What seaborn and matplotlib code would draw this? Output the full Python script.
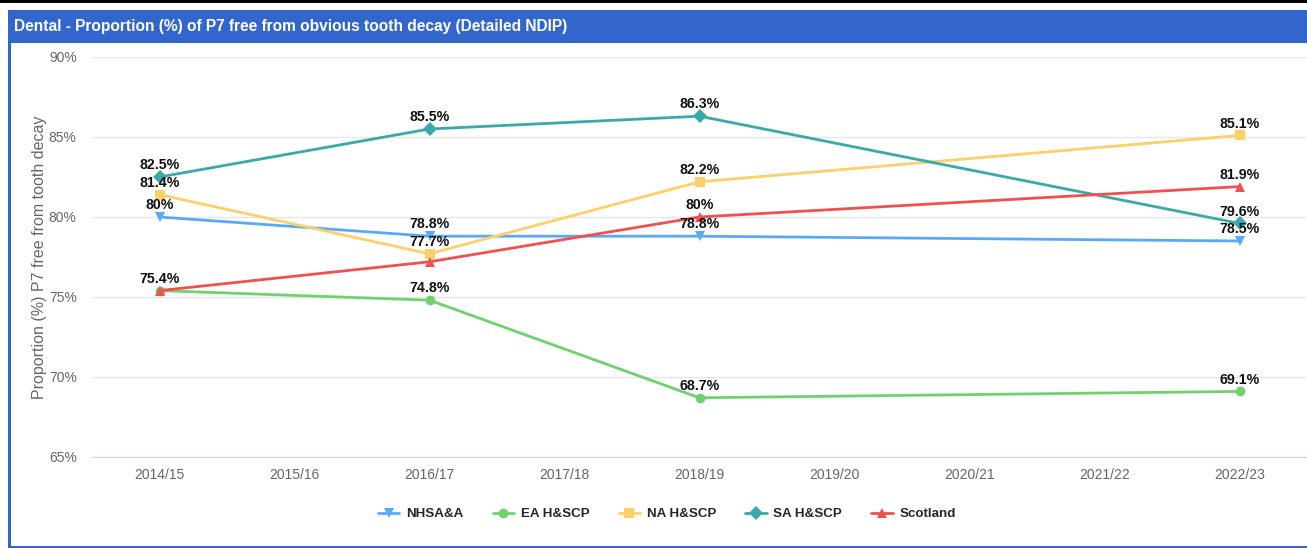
import numpy as np
import pandas as pd
import matplotlib
matplotlib.use("Agg")
import matplotlib.pyplot as plt
from matplotlib.patches import Rectangle
import seaborn as sns

sns.set_style("white")
plt.rcParams['font.family'] = ['Liberation Sans', 'DejaVu Sans']

# Data
years = ['2014/15', '2015/16', '2016/17', '2017/18', '2018/19',
         '2019/20', '2020/21', '2021/22', '2022/23']
data_years = ['2014/15', '2016/17', '2018/19', '2022/23']
nhsaa = [80.0, 78.8, 78.8, 78.5]
ea = [75.4, 74.8, 68.7, 69.1]
na = [81.4, 77.7, 82.2, 85.1]
sa = [82.5, 85.5, 86.3, 79.6]
scotland = [75.4, 77.2, 80.0, 81.9]
series_names = ['NHSA&A', 'EA H&SCP', 'NA H&SCP', 'SA H&SCP', 'Scotland']
colors = ['#5aa9f7', '#6fd26f', '#fdd06a', '#3aa9a9', '#ef5050']
markers = ['v', 'o', 's', 'D', '^']
# which points show a label (overlapping ones are hidden in the original)
show_label = {
    'NHSA&A': [True, True, True, True],
    'EA H&SCP': [True, True, True, True],
    'NA H&SCP': [True, True, True, True],
    'SA H&SCP': [True, True, True, True],
    'Scotland': [False, False, True, True],
}

rows = []
for name, vals in zip(series_names, [nhsaa, ea, na, sa, scotland]):
    for yr, v in zip(data_years, vals):
        rows.append({'series': name, 'year': yr, 'pos': years.index(yr), 'value': v})
df = pd.DataFrame(rows)

fig = plt.figure(figsize=(13.07, 5.48), dpi=100)
W, H = 1307, 548

# frame and header bar (pixel coords converted to figure fractions)
def px_rect(x0, y0, x1, y1, color):
    fig.patches.append(Rectangle((x0 / W, 1 - y1 / H), (x1 - x0) / W, (y1 - y0) / H,
                                 transform=fig.transFigure, color=color,
                                 linewidth=0, zorder=0))

px_rect(0, 0, W, 2.5, 'black')
px_rect(8, 10, W, 43, '#3366cc')
px_rect(8, 10, 11, H, '#3366cc')
px_rect(8, 545.5, W, H, '#3366cc')
fig.text(14 / W, 1 - 27 / H,
         'Dental - Proportion (%) of P7 free from obvious tooth decay (Detailed NDIP)',
         color='white', fontsize=11.2, fontweight='bold', va='center', ha='left')

ax = fig.add_axes([92 / W, 1 - 457 / H, 1 - 92 / W, 400 / H])
sns.lineplot(data=df, x='pos', y='value', hue='series', style='series',
             hue_order=series_names, style_order=series_names,
             palette=colors, markers=markers, dashes=False,
             linewidth=2, markersize=7, markeredgewidth=0, ax=ax)

for name in series_names:
    sub = df[df['series'] == name]
    for (_, r), show in zip(sub.iterrows(), show_label[name]):
        if show:
            ax.annotate(f"{r['value']:g}%", (r['pos'], r['value']),
                        xytext=(0, 3.5), textcoords='offset points',
                        ha='center', va='bottom', fontsize=10.2,
                        fontweight='bold', color='#111111')

ax.set_xlim(-0.5, 8.5)
ax.set_ylim(65, 90)
ax.set_xticks(range(len(years)))
ax.set_xticklabels(years)
ax.set_yticks([65, 70, 75, 80, 85, 90])
ax.set_yticklabels([f'{v}%' for v in [65, 70, 75, 80, 85, 90]])
ax.tick_params(axis='both', colors='#666666', labelsize=10, length=0)
ax.tick_params(axis='x', pad=8)
ax.tick_params(axis='y', pad=11)
ax.grid(axis='y', color='#e6e6e6', linewidth=1)
for s in ['top', 'right', 'left']:
    ax.spines[s].set_visible(False)
ax.spines['bottom'].set_color('#ccd6eb')
ax.set_xlabel('')
ax.set_ylabel('Proportion (%) P7 free from tooth decay', color='#666666', fontsize=11.5,
              labelpad=1.5)

handles, labels = ax.get_legend_handles_labels()
ax.legend(handles, labels, loc='center', bbox_to_anchor=((667 - 92) / (W - 92), -0.143),
          ncol=5, frameon=False, handlelength=1.6, handletextpad=0.5,
          columnspacing=2.2, prop={'weight': 'bold', 'size': 9.6})

fig.savefig('out.png', dpi=100)
